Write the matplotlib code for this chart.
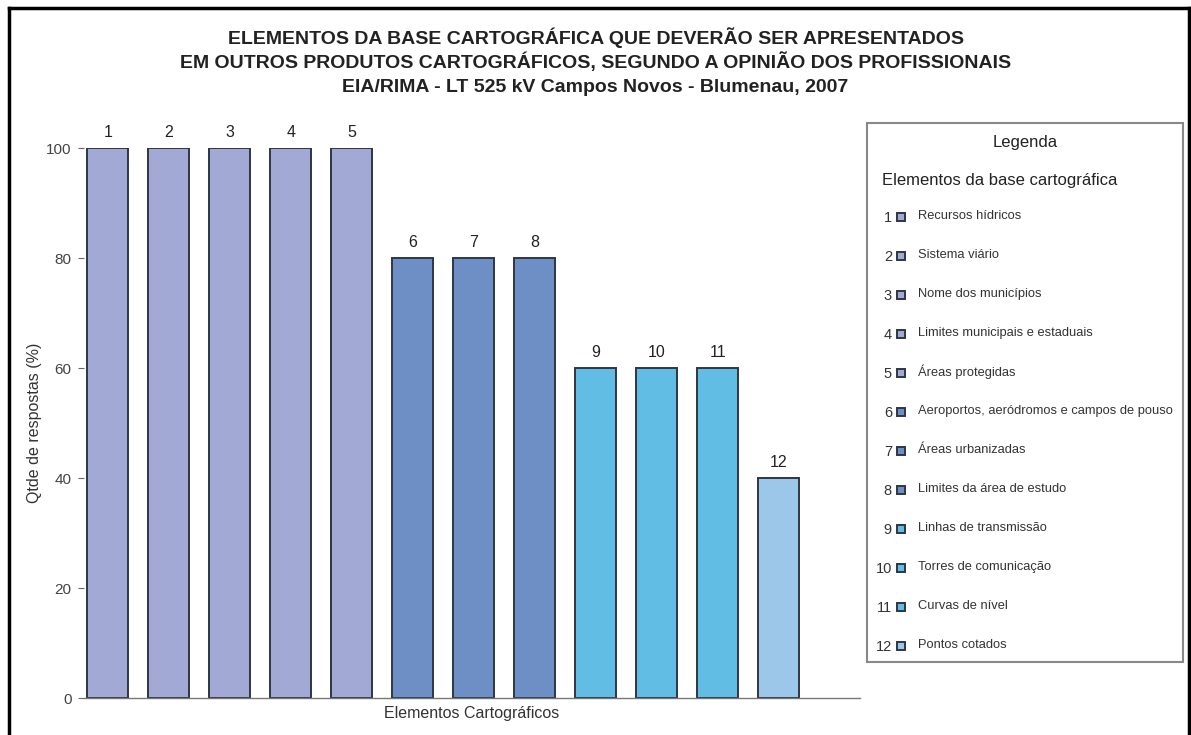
import matplotlib
matplotlib.use("Agg")
import matplotlib.pyplot as plt
from matplotlib.patches import Rectangle
from matplotlib.lines import Line2D

plt.rcParams['font.family'] = ['Liberation Sans', 'DejaVu Sans']

# respostas por elemento cartográfico (%)
numeros = ['1', '2', '3', '4', '5', '6', '7', '8', '9', '10', '11', '12']
valores = [100, 100, 100, 100, 100, 80, 80, 80, 60, 60, 60, 40]
elementos = ['Recursos hídricos', 'Sistema viário', 'Nome dos municípios',
             'Limites municipais e estaduais', 'Áreas protegidas',
             'Aeroportos, aeródromos e campos de pouso', 'Áreas urbanizadas',
             'Limites da área de estudo', 'Linhas de transmissão',
             'Torres de comunicação', 'Curvas de nível', 'Pontos cotados']
cores = ['#a2a9d5'] * 5 + ['#6d8fc5'] * 3 + ['#62bde5'] * 3 + ['#9dc7e9']
yticks = [0, 20, 40, 60, 80, 100]

fig = plt.figure(figsize=(11.91, 7.35), dpi=100)
ax = fig.add_axes([0.0705, 0.0503, 0.6515, 0.7483])

x = list(range(len(valores)))
bars = ax.bar(x, valores, width=0.67, color=cores, edgecolor='#2e3646', linewidth=1.4)
for xi, v, n in zip(x, valores, numeros):
    ax.text(xi, v + 1.5, n, ha='center', va='bottom', fontsize=11.5, color='#222222', clip_on=False)

ax.set_xlim(-0.39, 12.33)
ax.set_ylim(0, 100)
ax.set_yticks(yticks)
ax.set_xticks([])
ax.tick_params(axis='y', labelsize=11, labelcolor='#444444', color='#666666', length=4, pad=5)
for s in ['top', 'right', 'left']:
    ax.spines[s].set_visible(False)
ax.spines['bottom'].set_color('#777777')
ax.spines['bottom'].set_linewidth(1.0)
ax.set_ylabel('Qtde de respostas (%)', fontsize=11.5, color='#333333')
ax.yaxis.set_label_coords(-0.054, 0.5)
ax.set_xlabel('Elementos Cartográficos', fontsize=11.5, color='#333333', labelpad=6)

# título
titulo = ['ELEMENTOS DA BASE CARTOGRÁFICA QUE DEVERÃO SER APRESENTADOS',
          'EM OUTROS PRODUTOS CARTOGRÁFICOS, SEGUNDO A OPINIÃO DOS PROFISSIONAIS',
          'EIA/RIMA - LT 525 kV Campos Novos - Blumenau, 2007']
for i, linha in enumerate(titulo):
    fig.text(0.5, 1 - (38 + i * 24.5) / 735, linha, ha='center', va='center',
             fontsize=14, fontweight='bold', color='#222222')

# legenda
W, H = 1191, 735
def fx(px):
    return px / W
def fy(py):
    return 1 - py / H

fig.patches.append(Rectangle((fx(867), fy(662)), fx(1183) - fx(867), fy(123) - fy(662),
                             transform=fig.transFigure, facecolor='white',
                             edgecolor='#888888', linewidth=1.5))
fig.text(fx(1025), fy(143), 'Legenda', ha='center', va='center', fontsize=12, color='#222222')
fig.text(fx(882), fy(180), 'Elementos da base cartográfica', ha='left', va='center',
         fontsize=12, color='#222222')
for i, (n, nome, c) in enumerate(zip(numeros, elementos, cores)):
    py = 217 + i * 39
    fig.text(fx(892), fy(py + 1), n, ha='right', va='center', fontsize=10.5, color='#333333')
    fig.patches.append(Rectangle((fx(897), fy(py + 4)), fx(8), 8 / H,
                                 transform=fig.transFigure, facecolor=c,
                                 edgecolor='#2e3646', linewidth=1.4))
    fig.text(fx(918), fy(py - 1), nome, ha='left', va='center', fontsize=9.3, color='#333333')

# moldura
for xs, ys in [((fx(9), fx(9)), (0, fy(8))), ((fx(9), fx(1189)), (fy(8), fy(8))),
               ((fx(1189), fx(1189)), (0, fy(8)))]:
    fig.add_artist(Line2D(xs, ys, transform=fig.transFigure, color='black', linewidth=2.5))

fig.savefig('out.png', dpi=100)
